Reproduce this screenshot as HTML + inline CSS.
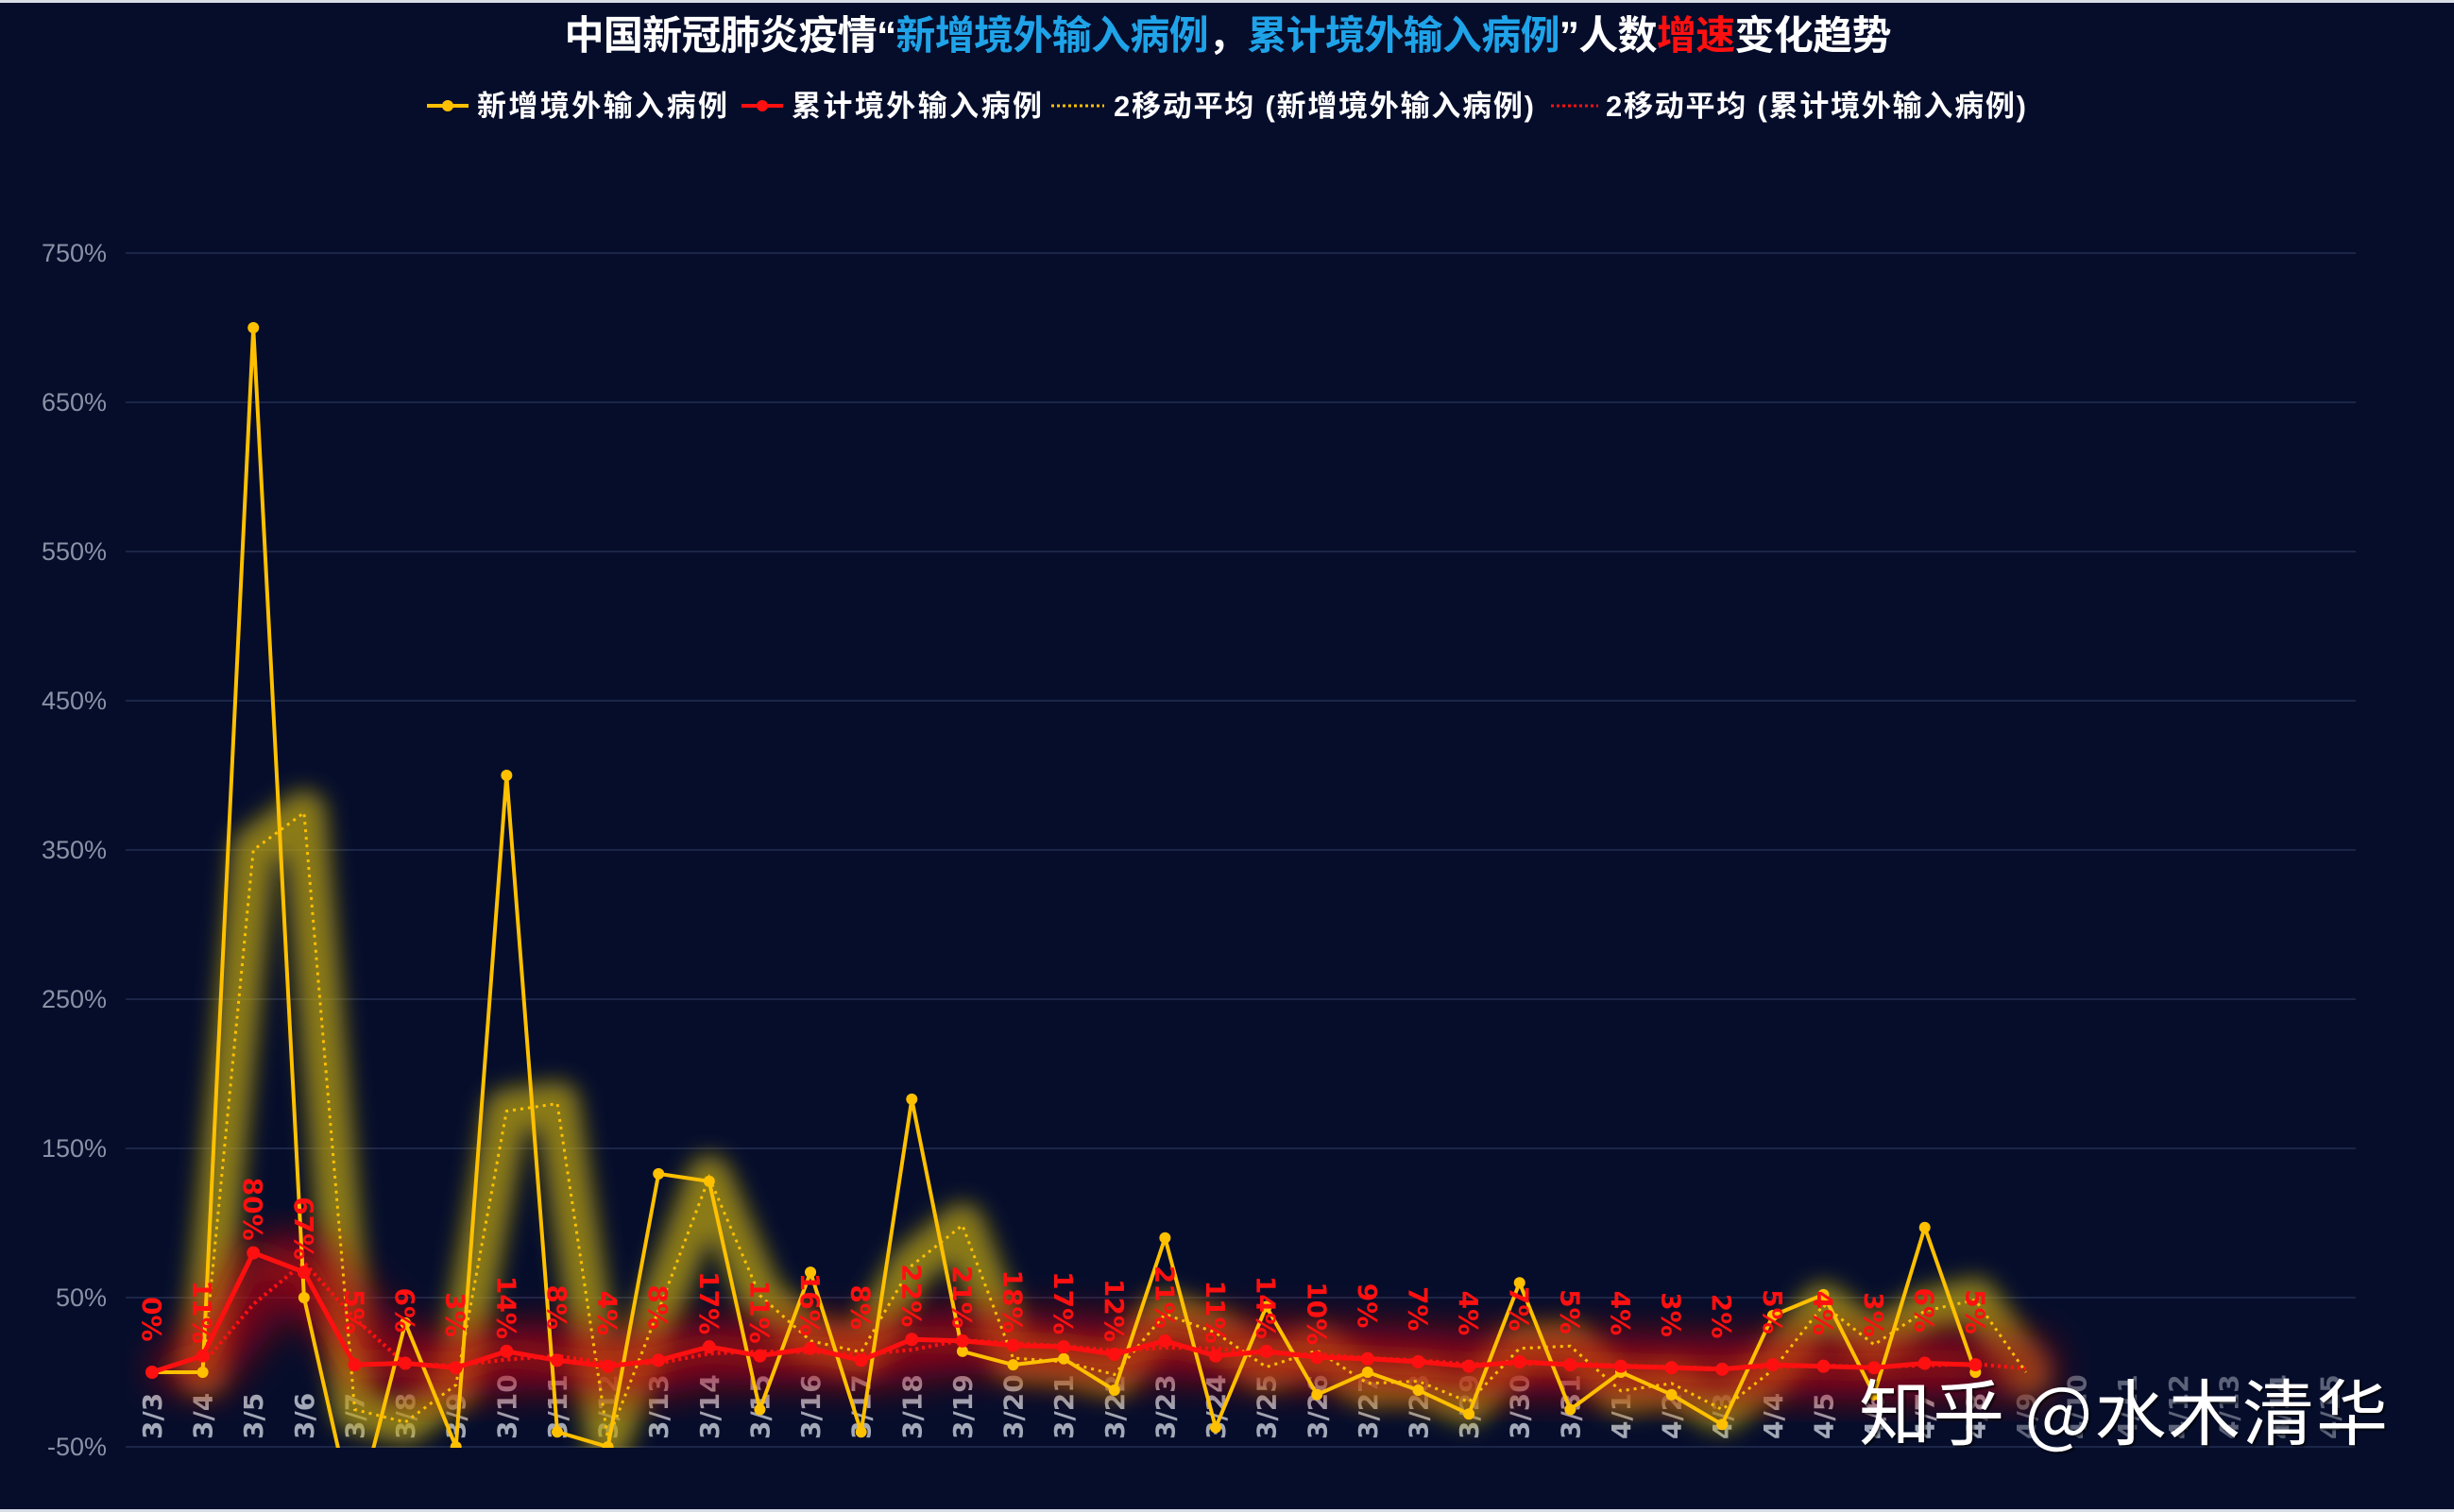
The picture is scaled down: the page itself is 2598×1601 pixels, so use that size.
<!DOCTYPE html>
<html><head><meta charset="utf-8"><style>
html,body{margin:0;padding:0;background:#050d2b;}
svg{display:block;}
</style></head><body>
<svg id="c" width="2598" height="1601" xmlns="http://www.w3.org/2000/svg"></svg>
<script>
const W=2598,H=1601;
const x0=161,dx=53.62;
const Y=v=>1532-(v+50)*1.58;
const dates=[];
for(let d=3;d<=31;d++)dates.push('3/'+d);
for(let d=1;d<=15;d++)dates.push('4/'+d);
const yel=[0,0,700,50,-100,33,-50,400,-40,-50,133,128,-25,67,-40,183,14,5,9,-12,90,-37,44,-15,0,-12,-28,60,-25,0,-15,-35,38,52,-15,97,0];
const red=[0,11,80,67,5,6,3,14,8,4,8,17,11,16,8,22,21,18,17,12,21,11,14,10,9,7,4,7,5,4,3,2,5,4,3,6,5];
function ma(a){const r=[];for(let i=1;i<=a.length;i++){const b=i<a.length?a[i]:0;r.push([i,(a[i-1]+b)/2]);}return r;}
const pts=a=>a.map((v,i)=>[x0+i*dx,Y(v)]);
const P=arr=>arr.map(p=>p[0].toFixed(1)+','+p[1].toFixed(1)).join(' ');
let s=`<defs>
<filter id="b1" x="-20%" y="-50%" width="140%" height="200%"><feGaussianBlur stdDeviation="12"/></filter>
<filter id="b2" x="-20%" y="-50%" width="140%" height="200%"><feGaussianBlur stdDeviation="20"/></filter>
<filter id="ts"><feDropShadow dx="2" dy="2" stdDeviation="1" flood-color="#000" flood-opacity="0.7"/></filter>
<clipPath id="cp"><rect x="133" y="200" width="2361" height="1333"/></clipPath></defs>`;
s+=`<rect x="0" y="0" width="${W}" height="${H}" fill="#050d2b"/>`;
s+=`<rect x="0" y="0" width="${W}" height="3" fill="#d8dce6"/><rect x="0" y="${H-3}" width="${W}" height="3" fill="#d8dce6"/>`;
for(let v=-50;v<=750;v+=100){const y=Y(v);
s+=`<line x1="133" x2="2494" y1="${y}" y2="${y}" stroke="#1b2547" stroke-width="2"/>`;
s+=`<text x="113" y="${y+9}" text-anchor="end" font-family="Liberation Sans,sans-serif" font-size="27" fill="#8a92a6">${v}%</text>`;}
s+=`<text x="1300" y="52" text-anchor="middle" font-family="Liberation Sans,'Noto Sans CJK SC',sans-serif" font-size="42" font-weight="bold" fill="#fff" textLength="1405">中国新冠肺炎疫情“<tspan fill="#1fa3e8">新增境外输入病例</tspan>，<tspan fill="#1fa3e8">累计境外输入病例</tspan>”人数<tspan fill="#ff1010">增速</tspan>变化趋势</text>`;
const lf=`font-family="Liberation Sans,'Noto Sans CJK SC',sans-serif" font-size="31" font-weight="bold" fill="#fff"`;
s+=`<line x1="452" x2="496" y1="112" y2="112" stroke="#ffc000" stroke-width="4"/><circle cx="474" cy="112" r="6" fill="#ffc000"/>`;
s+=`<text x="505" y="123" ${lf} textLength="265">新增境外输入病例</text>`;
s+=`<line x1="785" x2="829" y1="112" y2="112" stroke="#ff1010" stroke-width="4"/><circle cx="807" cy="112" r="6" fill="#ff1010"/>`;
s+=`<text x="838" y="123" ${lf} textLength="265">累计境外输入病例</text>`;
s+=`<line x1="1113" x2="1169" y1="112" y2="112" stroke="#ffc000" stroke-width="3" stroke-dasharray="3 3"/>`;
s+=`<text x="1179" y="123" ${lf} textLength="445">2移动平均 (新增境外输入病例)</text>`;
s+=`<line x1="1642" x2="1692" y1="112" y2="112" stroke="#ff1010" stroke-width="3" stroke-dasharray="3 3"/>`;
s+=`<text x="1700" y="123" ${lf} textLength="445">2移动平均 (累计境外输入病例)</text>`;
dates.forEach((d,i)=>{const x=x0+i*dx;const op=i>=37?0.55:1;
s+=`<text transform="translate(${x+10},1524) rotate(-90)" font-family="DejaVu Sans,sans-serif" font-size="28" font-weight="bold" fill="#a3a9b8" opacity="${op}">${d}</text>`;});
const ym=ma(yel).map(([i,v])=>[x0+i*dx,Y(v)]);
const rm=ma(red).map(([i,v])=>[x0+i*dx,Y(v)]);
let g=`<g clip-path="url(#cp)">`;
g+=`<polyline points="${P(ym)}" fill="none" stroke="#b8a010" stroke-opacity="0.75" stroke-width="46" stroke-linejoin="round" stroke-linecap="round" filter="url(#b1)"/>`;
g+=`<polyline points="${P(rm)}" fill="none" stroke="#a00818" stroke-opacity="0.6" stroke-width="70" stroke-linejoin="round" stroke-linecap="round" filter="url(#b2)"/>`;
g+=`<polyline points="${P(pts(red))}" fill="none" stroke="#ff2000" stroke-opacity="0.35" stroke-width="34" stroke-linejoin="round" filter="url(#b2)"/>`;
g+=`<polyline points="${P(ym)}" fill="none" stroke="#ffc000" stroke-width="3" stroke-dasharray="3 5"/>`;
g+=`<polyline points="${P(rm)}" fill="none" stroke="#ff1010" stroke-width="4" stroke-dasharray="3 4"/>`;
const yp=pts(yel);
g+=`<polyline points="${P(yp)}" fill="none" stroke="#ffc000" stroke-width="4" stroke-linejoin="round"/>`;
yp.forEach(p=>g+=`<circle cx="${p[0]}" cy="${p[1]}" r="6" fill="#ffc000"/>`);
const rp=pts(red);
g+=`<polyline points="${P(rp)}" fill="none" stroke="#ff1010" stroke-width="5" stroke-linejoin="round"/>`;
rp.forEach(p=>g+=`<circle cx="${p[0]}" cy="${p[1]}" r="7" fill="#ff1010"/>`);
g+=`</g>`;
s+=g;
red.forEach((v,i)=>{const x=x0+i*dx,y=Y(v)-18-62;
s+=`<text transform="translate(${x-10},${y}) rotate(90)" font-family="DejaVu Sans,sans-serif" font-size="28" font-weight="bold" fill="#ff1010">${v}%</text>`;});
s+=`<text x="1968" y="1524" font-family="'Noto Sans CJK SC',sans-serif" font-size="76" fill="#fff" filter="url(#ts)" textLength="560">知乎 @水木清华</text>`;
document.getElementById('c').innerHTML=s;
</script>
</body></html>
